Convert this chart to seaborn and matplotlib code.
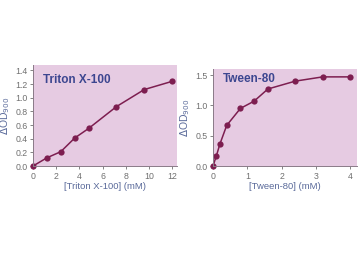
import matplotlib
matplotlib.use("Agg")
import matplotlib.pyplot as plt
import seaborn as sns
import pandas as pd

triton_x = [0, 1.2, 2.4, 3.6, 4.8, 7.2, 9.6, 12]
triton_y = [0.0, 0.12, 0.21, 0.41, 0.55, 0.87, 1.12, 1.24]
tween_x = [0, 0.1, 0.2, 0.4, 0.8, 1.2, 1.6, 2.4, 3.2, 4.0]
tween_y = [0.0, 0.17, 0.36, 0.67, 0.95, 1.07, 1.27, 1.40, 1.47, 1.47]
triton_xticks = [0, 2, 4, 6, 8, 10, 12]
triton_yticks = [0.0, 0.2, 0.4, 0.6, 0.8, 1.0, 1.2, 1.4]
tween_xticks = [0, 1, 2, 3, 4]
tween_yticks = [0.0, 0.5, 1.0, 1.5]

sns.set_theme(style="ticks")
plt.rcParams['font.family'] = ['Liberation Sans', 'DejaVu Sans']

bg = '#e6cbe2'
line_c = '#7d1e50'
title_c = '#3c4690'
tick_c = '#707070'
label_c = '#5a6a9a'

fig = plt.figure(figsize=(3.6, 2.64), dpi=100)
ax1 = fig.add_axes([33/360, 1-166/264, 144/360, 101/264])
ax2 = fig.add_axes([213/360, 1-166/264, 144/360, 97/264])

panels = [
    (ax1, triton_x, triton_y, triton_xticks, triton_yticks, (0, 12.43), (0, 1.48),
     'Triton X-100', '[Triton X-100] (mM)', (0.07, 0.85)),
    (ax2, tween_x, tween_y, tween_xticks, tween_yticks, (0, 4.2), (0, 1.6),
     'Tween-80', '[Tween-80] (mM)', (0.07, 0.90)),
]

for ax, xs, ys, xt, yt, xl, yl, title, xlabel, tpos in panels:
    df = pd.DataFrame({'x': xs, 'y': ys})
    ax.set_facecolor(bg)
    sns.lineplot(data=df, x='x', y='y', ax=ax, color=line_c, lw=1.1,
                 marker='o', markersize=4.5, markeredgewidth=0, clip_on=False)
    ax.set_xlim(*xl)
    ax.set_ylim(*yl)
    ax.set_xticks(xt)
    ax.set_xticklabels([f'{v:g}' for v in xt])
    ax.set_yticks(yt)
    ax.set_yticklabels([f'{v:.1f}' for v in yt])
    ax.tick_params(axis='both', labelsize=6.3, colors=tick_c, length=2.5, width=0.6, pad=1.5)
    for s in ['top', 'right']:
        ax.spines[s].set_visible(False)
    for s in ['left', 'bottom']:
        ax.spines[s].set_color('#8a7a88')
        ax.spines[s].set_linewidth(0.7)
    ax.set_xlabel(xlabel, fontsize=6.8, color=label_c, labelpad=1)
    ax.set_ylabel(r'$\Delta$OD$_{900}$', fontsize=7.5, color=label_c, labelpad=2)
    ax.text(tpos[0], tpos[1], title, transform=ax.transAxes, fontsize=8.5,
            fontweight='bold', color=title_c, va='center', ha='left')

fig.savefig('out.png', dpi=100)
